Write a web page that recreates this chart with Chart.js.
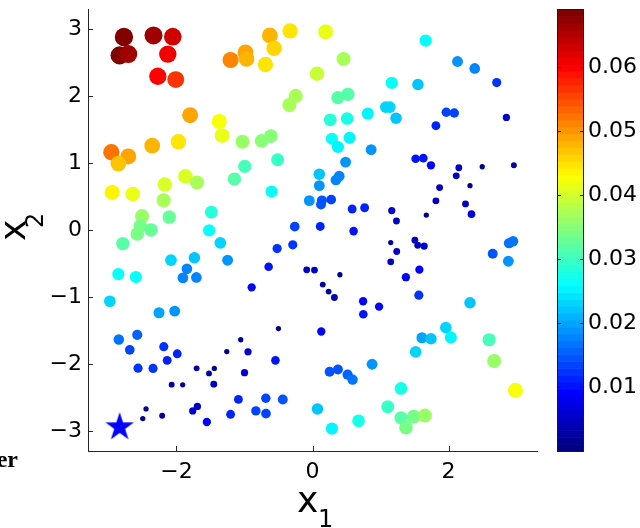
<!DOCTYPE html>
<html>
<head>
<meta charset="utf-8">
<title>scatter</title>
<script src="https://cdn.jsdelivr.net/npm/chart.js@4.4.1/dist/chart.umd.min.js"></script>
<style>
	html, body { margin: 0; padding: 0; background: #fff; }
	#wrap { width: 640px; height: 528px; }
</style>
</head>
<body>
<div id="wrap"><canvas id="chart" width="640" height="528"></canvas></div>
<script>
// Sample positions and their values
const x1 = [
	-2.772, -2.835, -2.708, -2.337, -2.054, -2.127, -2.274, -2.010, -1.204, -0.985,
	-0.970, -0.627, -0.564, -0.692, -0.330, 0.066, -0.246, -0.340, -1.799, -1.370,
	-1.330, -1.971, -2.356, -2.957, -2.708, -2.854, -1.029, -0.747, -0.612, -0.513,
	0.193, 0.457, 0.520, 0.374, 0.261, 0.510, 0.286, 0.545, 0.374, 0.813,
	1.165, 1.077, 1.136, 1.228, 0.862, 1.663, 1.550, 2.132, 2.385, 2.708,
	1.966, 2.084, 1.814, 2.850, 1.516, 1.629, -0.996, -1.147, -1.868, -1.697,
	-2.171, -2.188, -2.945, -2.642, -2.505, -2.106, -2.530, -2.576, -2.374, -2.788,
	-1.487, -1.519, -1.355, -1.248, -0.601, -0.047, -0.261, -0.290, -0.520, -0.645,
	-0.085, 0.029, -0.894, -2.081, -1.736, -1.846, -1.905, -1.707, -2.854, -2.596,
	-2.979, 0.486, 0.100, 0.100, 0.344, 0.393, 0.139, 0.125, 0.275, 0.583,
	0.766, 0.114, 0.604, 1.165, 1.234, 1.741, 2.151, 2.495, 2.960, 1.868,
	2.113, 2.315, 1.814, 2.249, 2.337, 1.673, 1.150, 1.238, 1.150, 1.505,
	1.546, 1.641, 1.571, 1.373, 1.563, 0.403, 0.151, 0.237, 0.322, 0.744,
	0.979, 2.889, 2.948, 2.649, 2.879, 2.315, -2.256, -2.026, -2.847, -2.576,
	-2.686, -2.186, -2.136, -1.988, -2.564, -2.344, -2.070, -1.908, -1.703, -1.521,
	-1.443, -1.451, -1.260, -1.055, -0.948, -0.999, -0.545, -0.501, -2.447, -2.495,
	-2.210, -1.761, -1.692, -1.553, -1.204, -1.089, -0.832, -0.686, -0.684, -0.437,
	0.073, 0.747, 0.129, 1.960, 2.034, 1.609, 1.741, 1.516, 2.596, 2.670,
	2.982, 0.876, 0.252, 0.374, 0.516, 0.589, 0.286, 0.677, 1.301, 1.106,
	1.301, 1.487, 1.653, 1.374
]
const x2 = [
	2.884, 2.610, 2.629, 2.908, 2.889, 2.629, 2.298, 2.248, 2.541, 2.654,
	2.556, 2.908, 2.717, 2.474, 2.977, 2.336, 2.004, 1.867, 1.716, 1.623,
	1.412, 1.320, 1.261, 1.163, 1.100, 0.993, 1.320, 1.334, 1.403, 1.051,
	2.962, 2.556, 2.028, 1.979, 1.647, 1.667, 1.364, 1.378, 1.242, 1.740,
	2.199, 1.837, 1.837, 1.672, 1.202, 2.830, 2.175, 2.518, 2.415, 2.204,
	1.760, 1.749, 1.559, 1.682, 1.066, 1.075, 0.953, 0.762, 0.802, 0.711,
	0.680, 0.444, 0.562, 0.538, 0.210, 0.194, 0.063, -0.059, 0.003, -0.201,
	0.268, -0.003, -0.191, -0.450, 0.576, 0.440, 0.051, -0.220, -0.276, -0.547,
	-0.594, -0.598, -0.855, -0.450, -0.413, -0.579, -0.714, -0.707, -0.657, -0.701,
	-1.063, 1.016, 0.836, 0.664, 0.748, 0.806, 0.444, 0.381, 0.455, 0.315,
	0.334, 0.054, -0.015, 0.292, 0.136, 0.968, 0.931, 0.946, 0.968, 0.635,
	0.811, 0.664, 0.437, 0.391, 0.238, 0.224, -0.186, -0.320, -0.474, -0.150,
	-0.227, -0.239, -0.591, -0.704, -0.972, -0.667, -0.814, -0.919, -1.007, -1.063,
	-1.144, -0.195, -0.166, -0.352, -0.465, -1.085, -1.235, -1.210, -1.635, -1.565,
	-1.789, -1.742, -1.946, -1.848, -2.063, -2.067, -2.309, -2.312, -2.065, -2.141,
	-2.067, -2.302, -1.814, -1.638, -1.818, -2.130, -1.946, -1.471, -2.672, -2.815,
	-2.774, -2.702, -2.635, -2.867, -2.752, -2.529, -2.701, -2.512, -2.742, -2.532,
	-2.672, -1.258, -1.515, -1.456, -1.603, -1.608, -1.623, -1.818, -1.638, -1.955,
	-2.394, -2.004, -2.116, -2.082, -2.160, -2.233, -2.966, -2.849, -2.365, -2.639,
	-2.805, -2.786, -2.771, -2.952
]
const vals = [
	0.069, 0.068, 0.066, 0.066, 0.063, 0.061, 0.060, 0.057, 0.051, 0.049,
	0.048, 0.048, 0.046, 0.045, 0.045, 0.039, 0.037, 0.037, 0.049, 0.043,
	0.041, 0.045, 0.048, 0.052, 0.049, 0.047, 0.036, 0.035, 0.035, 0.030,
	0.042, 0.037, 0.032, 0.032, 0.029, 0.028, 0.026, 0.025, 0.025, 0.025,
	0.026, 0.023, 0.023, 0.022, 0.019, 0.026, 0.022, 0.019, 0.018, 0.012,
	0.013, 0.013, 0.011, 0.006, 0.010, 0.010, 0.031, 0.032, 0.040, 0.037,
	0.040, 0.037, 0.044, 0.041, 0.036, 0.033, 0.034, 0.034, 0.033, 0.032,
	0.029, 0.026, 0.023, 0.019, 0.026, 0.019, 0.014, 0.012, 0.012, 0.010,
	0.005, 0.005, 0.009, 0.023, 0.022, 0.018, 0.018, 0.018, 0.026, 0.026,
	0.023, 0.019, 0.022, 0.019, 0.018, 0.018, 0.015, 0.015, 0.014, 0.011,
	0.011, 0.011, 0.010, 0.006, 0.005, 0.009, 0.005, 0.002, 0.003, 0.005,
	0.005, 0.002, 0.005, 0.005, 0.007, 0.002, 0.002, 0.005, 0.005, 0.005,
	0.005, 0.006, 0.009, 0.009, 0.012, 0.002, 0.003, 0.003, 0.005, 0.009,
	0.009, 0.017, 0.017, 0.015, 0.019, 0.022, 0.020, 0.019, 0.017, 0.016,
	0.014, 0.012, 0.011, 0.011, 0.012, 0.012, 0.003, 0.002, 0.003, 0.003,
	0.002, 0.005, 0.002, 0.002, 0.006, 0.006, 0.010, 0.002, 0.002, 0.002,
	0.003, 0.006, 0.006, 0.009, 0.011, 0.011, 0.013, 0.013, 0.014, 0.015,
	0.022, 0.010, 0.009, 0.023, 0.025, 0.020, 0.022, 0.023, 0.031, 0.036,
	0.043, 0.019, 0.015, 0.015, 0.016, 0.017, 0.025, 0.028, 0.028, 0.030,
	0.032, 0.034, 0.036, 0.034
]

// The star marker
const starX = [-2.835]
const starY = [-2.944]

// Tick labels
const xTicks = [-2, 0, 2]
const yTicks = [3, 2, 1, 0, -1, -2, -3]
const cbTicks = [0.01, 0.02, 0.03, 0.04, 0.05, 0.06]
const cbMin = 0
const cbMax = 0.069

// MATLAB jet colormap
function jet(f) {
	const c = t => Math.round(255 * Math.max(0, Math.min(1, t)))
	return 'rgb(' + c(1.5 - Math.abs(4 * f - 3)) + ',' + c(1.5 - Math.abs(4 * f - 2)) + ',' + c(1.5 - Math.abs(4 * f - 1)) + ')'
}
function colorOf(v) {
	const idx = Math.max(0, Math.min(63, Math.floor(((v - cbMin) / (cbMax - cbMin)) * 64)))
	return jet(idx / 63)
}

const points = x1.map((x, i) => ({ x: x, y: x2[i] }))
const colors = vals.map(colorOf)
const radii = vals.map(v => 1.3 + 30 * Math.sqrt(v))

// Filled pentagram for the star
const star = document.createElement('canvas')
star.width = 34
star.height = 34
;(function () {
	const s = star.getContext('2d')
	const R = 15, r = R * 0.382
	s.beginPath()
	for (let k = 0; k < 10; k++) {
		const a = -Math.PI / 2 + (k * Math.PI) / 5
		const rr = k % 2 ? r : R
		s.lineTo(17 + rr * Math.cos(a), 17 + rr * Math.sin(a))
	}
	s.closePath()
	s.fillStyle = '#0000ff'
	s.fill()
})()

const tickFont = { family: '"DejaVu Sans", sans-serif', size: 22 }
const minus = v => String(v).replace('-', '\u2212')

// keep the plot box fixed: no extra padding from the tick labels
function fixSize(prop, size) {
	return s => {
		s[prop] = size
		s.paddingTop = 0
		s.paddingBottom = 0
		s.paddingLeft = 0
		s.paddingRight = 0
	}
}

// Inward ticks, colorbar and axis titles
const matlabLook = {
	id: 'matlabLook',
	afterDraw(chart) {
		const ctx = chart.ctx
		const a = chart.chartArea
		const { x, y, cb } = chart.scales
		ctx.save()
		ctx.strokeStyle = '#262626'
		ctx.lineWidth = 1
		ctx.beginPath()
		xTicks.forEach(t => {
			const px = Math.round(x.getPixelForValue(t)) + 0.5
			ctx.moveTo(px, a.bottom)
			ctx.lineTo(px, a.bottom - 5)
		})
		yTicks.forEach(t => {
			const py = Math.round(y.getPixelForValue(t)) + 0.5
			ctx.moveTo(a.left, py)
			ctx.lineTo(a.left + 5, py)
		})
		ctx.stroke()

		// colorbar
		const left = 557, right = 584
		const top = cb.getPixelForValue(cbMax), bottom = cb.getPixelForValue(cbMin)
		for (let i = 0; i < 64; i++) {
			const p0 = cb.getPixelForValue(cbMin + ((cbMax - cbMin) * i) / 64)
			const p1 = cb.getPixelForValue(cbMin + ((cbMax - cbMin) * (i + 1)) / 64)
			ctx.fillStyle = jet(i / 63)
			ctx.fillRect(left, p1, right - left, p0 - p1 + 0.6)
		}
		ctx.strokeStyle = '#1a1a1a'
		ctx.strokeRect(left + 0.5, Math.round(top) + 0.5, right - left - 1, Math.round(bottom - top))
		ctx.beginPath()
		cbTicks.forEach(t => {
			const py = Math.round(cb.getPixelForValue(t)) + 0.5
			ctx.moveTo(left, py)
			ctx.lineTo(left + 4, py)
			ctx.moveTo(right, py)
			ctx.lineTo(right - 4, py)
		})
		ctx.stroke()

		// axis titles with subscripts
		ctx.fillStyle = '#000'
		ctx.textAlign = 'left'
		ctx.textBaseline = 'alphabetic'
		ctx.font = '36px "DejaVu Sans"'
		ctx.fillText('x', 297, 512)
		ctx.font = '24px "DejaVu Sans"'
		ctx.fillText('1', 318, 527)
		ctx.save()
		ctx.translate(25, 241)
		ctx.rotate(-Math.PI / 2)
		ctx.font = '36px "DejaVu Sans"'
		ctx.fillText('x', 0, 0)
		ctx.font = '24px "DejaVu Sans"'
		ctx.fillText('2', 13, 18)
		ctx.restore()

		// clipped caption text at the lower left
		ctx.font = 'bold 24px "Liberation Serif"'
		ctx.textAlign = 'right'
		ctx.fillText('er', 18, 467)
		ctx.restore()
	},
}

new Chart(document.getElementById('chart'), {
	type: 'scatter',
	data: {
		datasets: [
			{
				data: points,
				pointRadius: radii,
				pointBackgroundColor: colors,
				pointBorderWidth: 0,
			},
			{
				data: starX.map((x, i) => ({ x: x, y: starY[i] })),
				pointStyle: star,
				pointBorderWidth: 0,
			},
		],
	},
	options: {
		responsive: false,
		animation: false,
		events: [],
		layout: { padding: { top: 2, left: 0, right: 0, bottom: 0 } },
		plugins: { legend: { display: false }, tooltip: { enabled: false } },
		scales: {
			x: {
				type: 'linear',
				min: -3.3,
				max: 3.3,
				afterBuildTicks: s => { s.ticks = xTicks.map(v => ({ value: v })) },
				afterFit: fixSize('height', 77),
				grid: { display: false, drawTicks: false },
				border: { display: true, color: '#262626', width: 1 },
				ticks: { font: tickFont, color: '#000', padding: 8, maxRotation: 0, callback: minus },
			},
			y: {
				type: 'linear',
				min: -3.3,
				max: 3.3,
				afterBuildTicks: s => { s.ticks = yTicks.map(v => ({ value: v })) },
				afterFit: fixSize('width', 88),
				grid: { display: false, drawTicks: false },
				border: { display: true, color: '#262626', width: 1 },
				ticks: { font: tickFont, color: '#000', padding: 6, callback: minus },
			},
			cb: {
				type: 'linear',
				position: 'right',
				min: cbMin,
				max: cbMax,
				afterBuildTicks: s => { s.ticks = cbTicks.map(v => ({ value: v })) },
				afterFit: fixSize('width', 103),
				grid: { display: false, drawTicks: false },
				border: { display: false },
				ticks: { font: tickFont, color: '#000', padding: 51, callback: v => v.toFixed(2) },
			},
		},
	},
	plugins: [matlabLook],
})
</script>
</body>
</html>
